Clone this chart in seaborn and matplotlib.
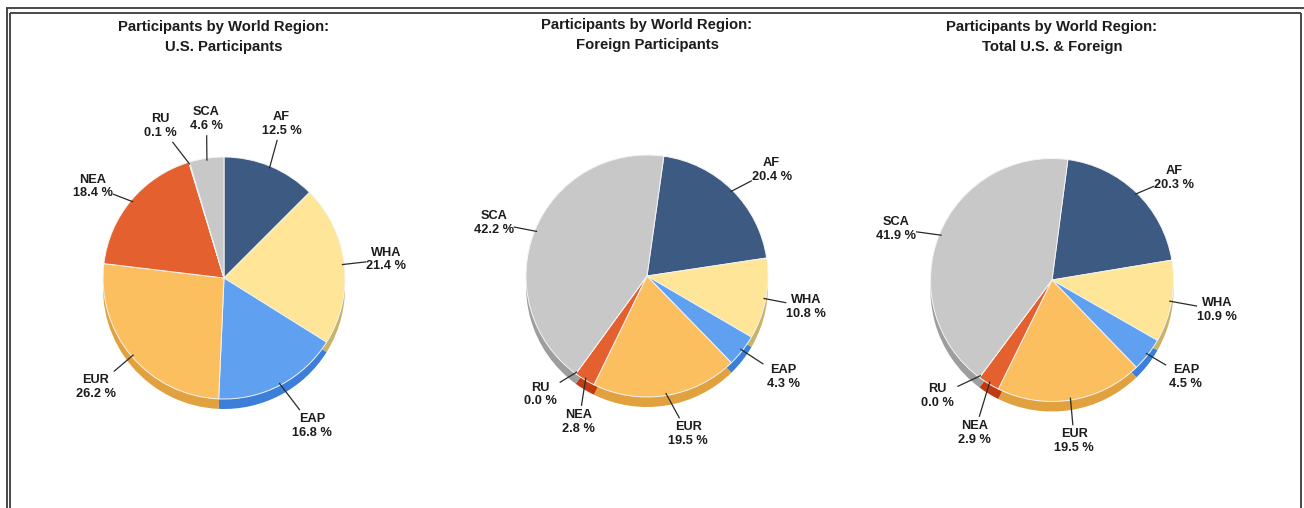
import numpy as np
import matplotlib
matplotlib.use("Agg")
import matplotlib.pyplot as plt
import seaborn as sns
from matplotlib import font_manager

# Region shares (%) listed clockwise from the first wedge
regions = ["AF", "WHA", "EAP", "EUR", "NEA", "RU", "SCA"]
us_share = [12.5, 21.4, 16.8, 26.2, 18.4, 0.1, 4.6]
foreign_share = [20.4, 10.8, 4.3, 19.5, 2.8, 0.0, 42.2]
total_share = [20.3, 10.9, 4.5, 19.5, 2.9, 0.0, 41.9]
titles = [
    "Participants by World Region:\nU.S. Participants",
    "Participants by World Region:\nForeign Participants",
    "Participants by World Region:\nTotal U.S. & Foreign",
]

face_colors = ["#3d5a82", "#fee597", "#5fa0f0", "#fbbf60", "#e4602f", "#8c8c8c", "#c8c8c8"]
side_colors = ["#2b4266", "#c9b26a", "#3b7fda", "#e2a13f", "#c23a10", "#707070", "#9e9e9e"]

W, H = 1304, 508

sns.set_theme(style="white")
names = {f.name for f in font_manager.fontManager.ttflist}
narrow = "Liberation Sans Narrow" if "Liberation Sans Narrow" in names else "Liberation Sans"
plt.rcParams["font.family"] = [narrow, "DejaVu Sans"]

face_pal = sns.color_palette(face_colors)
side_pal = sns.color_palette(side_colors)

fig = plt.figure(figsize=(W / 100, H / 100), dpi=100)
ax = fig.add_axes([0, 0, 1, 1])

# pie layout in pixel units (y measured from top), clockwise offset of first wedge
layouts = [
    dict(cx=224, cy=278, r=121, start=0.0, title_y=37,
         nudge=[(-2, 1.36), (0, 1.35), (-3, 1.42), (0, 1.39), (-5, 1.32), (-6, 1.36), (2, 1.32)]),
    dict(cx=647, cy=276, r=121, start=8.0, title_y=35,
         nudge=[(5, 1.35), (0, 1.34), (-1.5, 1.40), (-5.5, 1.35), (-6, 1.33), (6, 1.32), (-3, 1.34)]),
    dict(cx=1052, cy=280, r=121.5, start=7.5, title_y=37,
         nudge=[(6, 1.31), (0, 1.38), (-2, 1.36), (1, 1.34), (-4.5, 1.41), (8, 1.34), (-4, 1.35)]),
]
depth = 10
text_color = "#1c1c1c"

for share, lay, title in zip([us_share, foreign_share, total_share], layouts, titles):
    cx, cy, r = lay["cx"], H - lay["cy"], lay["r"]
    # extruded side first, then the top face
    ax.pie(share, colors=side_pal, startangle=90 - lay["start"], counterclock=False,
           center=(cx, cy - depth), radius=r,
           wedgeprops=dict(linewidth=0, edgecolor="none"))
    wedges, _ = ax.pie(share, colors=face_pal, startangle=90 - lay["start"], counterclock=False,
                       center=(cx, cy), radius=r,
                       wedgeprops=dict(linewidth=0.7, edgecolor="#f4f4f4"))
    for w, name, val, (dth, rf) in zip(wedges, regions, share, lay["nudge"]):
        mid = np.deg2rad((w.theta1 + w.theta2) / 2)
        lab = np.deg2rad((w.theta1 + w.theta2) / 2 - dth)
        p0 = np.array([cx + r * 0.98 * np.cos(mid), cy + r * 0.98 * np.sin(mid)])
        L = np.array([cx + r * rf * np.cos(lab), cy + r * rf * np.sin(lab)])
        d = L - p0
        u = d / np.hypot(*d)
        gap = min(18 / max(abs(u[0]), 1e-6), 14 / max(abs(u[1]), 1e-6)) + 2
        p1 = L - u * gap
        ax.plot([p0[0], p1[0]], [p0[1], p1[1]], color="#2a2a2a", lw=0.9, solid_capstyle="butt")
        ax.text(L[0], L[1], f"{name}\n{val:.1f} %", ha="center", va="center",
                multialignment="center", fontsize=9.2, fontweight="bold",
                color=text_color, linespacing=1.2)
    ax.text(cx, H - lay["title_y"], title, ha="center", va="center", multialignment="center",
            fontsize=10.7, fontweight="bold", color=text_color, linespacing=1.5)

# double frame around the panel
frame_kw = dict(color="#3a3a3a", lw=1.3, solid_capstyle="butt", clip_on=False)
ax.plot([6.5, 6.5], [0, H - 8], **frame_kw)
ax.plot([6, W], [H - 8, H - 8], **frame_kw)
ax.plot([10, 10], [0, H - 12.5], **frame_kw)
ax.plot([10, 1300.5], [H - 12.5, H - 12.5], **frame_kw)
ax.plot([1300.5, 1300.5], [0, H - 12.5], **frame_kw)

ax.set_xlim(0, W)
ax.set_ylim(0, H)
ax.set_aspect("equal")
ax.axis("off")
fig.savefig("out.png", dpi=100, facecolor="white")
